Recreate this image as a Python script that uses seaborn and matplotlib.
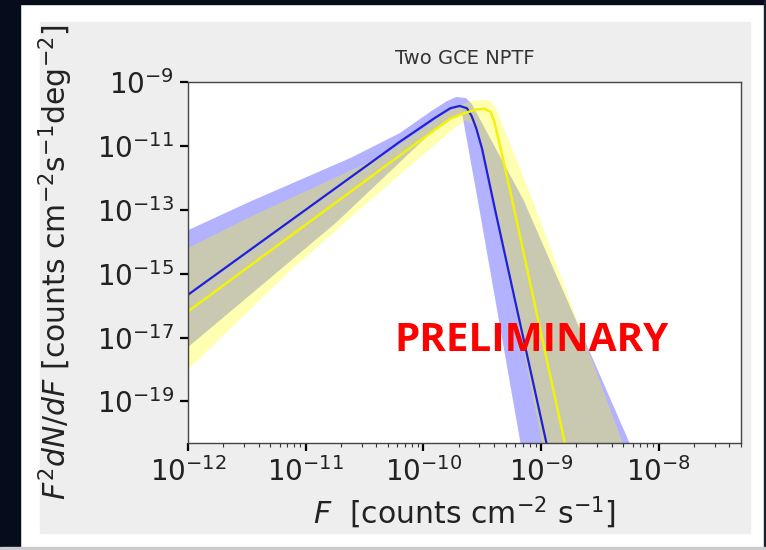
import numpy as np
import pandas as pd
import matplotlib
matplotlib.use('Agg')
import matplotlib.pyplot as plt
import matplotlib.ticker as mtick
from matplotlib.patches import Rectangle
import seaborn as sns

sns.set_style('ticks')
plt.rcParams['font.family'] = ['DejaVu Sans']
plt.rcParams['mathtext.fontset'] = 'dejavusans'

# all values are log10
# x = log10 F, y = log10 F^2 dN/dF
blue_med_x = [-12, -10.2, -9.9, -9.77, -9.69, -9.63, -9.59, -9.55, -9.5, -9.39, -8.90]
blue_med_y = [-15.66, -10.87, -10.12, -9.82, -9.75, -9.82, -10.06, -10.45, -11.1, -13.0, -21.2]

yel_med_x = [-12, -10.2, -9.9, -9.77, -9.67, -9.55, -9.48, -9.43, -9.40, -9.35, -9.245, -8.75]
yel_med_y = [-16.18, -11.30, -10.49, -10.15, -10.0, -9.86, -9.84, -9.93, -10.2, -10.95, -12.69, -21.1]

blue_up_x = [-12, -11.47, -10.62, -10.2, -9.94, -9.8, -9.72, -9.64, -9.59, -9.55, -9.149, -8.247, -8.15]
blue_up_y = [-13.64, -12.74, -11.38, -10.6, -9.93, -9.6, -9.47, -9.5, -9.68, -9.95, -12.69, -20.3, -21.1]
blue_lo_x = [-12, -10.74, -9.91, -9.75, -9.67, -9.53, -9.174, -9.13]
blue_lo_y = [-17.3, -13.4, -10.5, -10.1, -10.0, -12.85, -20.3, -21.2]

yel_up_x = [-12, -11.47, -10.34, -10.0, -9.85, -9.72, -9.6, -9.48, -9.42, -9.38, -9.072, -8.757, -8.306, -8.2]
yel_up_y = [-14.2, -13.22, -11.30, -10.45, -10.05, -9.78, -9.6, -9.55, -9.62, -9.85, -12.69, -15.81, -20.3, -21.35]
yel_lo_x = [-12, -11.1, -10.2, -9.77, -9.64, -9.57, -9.50, -9.39, -8.991, -8.95]
yel_lo_y = [-18.0, -14.8, -11.9, -10.55, -10.2, -10.35, -11.2, -12.9, -20.3, -21.1]

y_ticks = [-19, -17, -15, -13, -11, -9]
x_ticks = [-12, -11, -10, -9, -8]


def band(ux, uy, lx, ly):
    px = 10 ** np.r_[ux, lx[::-1]]
    py = 10 ** np.r_[uy, ly[::-1]]
    return px, py


fig = plt.figure(figsize=(7.66, 5.5), dpi=100)
fig.patch.set_facecolor('white')

# slide frame around the plot
frame = [
    ((0, 0), 20 / 766, 1, '#070c1c'),
    ((0, 1 - 4 / 550), 1, 4 / 550, '#070c1c'),
    ((764 / 766, 0), 2 / 766, 1, '#1a1f2e'),
    ((0, 0), 1, 3 / 550, '#cccccc'),
    ((40 / 766, 17 / 550), 710 / 766, 511 / 550, '#eeeeee'),
]
for xy, w, h, c in frame:
    fig.patches.append(Rectangle(xy, w, h, transform=fig.transFigure, color=c, zorder=-5))

ax = fig.add_axes([188 / 766, 107 / 550, 553 / 766, 361 / 550])
ax.set_facecolor('white')
ax.set_xscale('log')
ax.set_yscale('log')

px, py = band(blue_up_x, blue_up_y, blue_lo_x, blue_lo_y)
ax.fill(px, py, color='blue', alpha=0.3, lw=0)
px, py = band(yel_up_x, yel_up_y, yel_lo_x, yel_lo_y)
ax.fill(px, py, color='yellow', alpha=0.3, lw=0)

blue_df = pd.DataFrame({'F': 10 ** np.array(blue_med_x), 'val': 10 ** np.array(blue_med_y)})
yel_df = pd.DataFrame({'F': 10 ** np.array(yel_med_x), 'val': 10 ** np.array(yel_med_y)})
sns.lineplot(data=blue_df, x='F', y='val', color='#1f1fdc', lw=1.6, ax=ax, sort=False, estimator=None)
sns.lineplot(data=yel_df, x='F', y='val', color='#f2f20a', lw=1.8, ax=ax, sort=False, estimator=None)

ax.set_xlim(1e-12, 10 ** -7.3)
ax.set_ylim(10 ** -20.3, 1e-9)

ax.xaxis.set_major_locator(mtick.FixedLocator([10.0 ** t for t in x_ticks]))
ax.xaxis.set_minor_locator(mtick.LogLocator(base=10, subs=np.arange(2, 10), numticks=20))
ax.yaxis.set_major_locator(mtick.FixedLocator([10.0 ** t for t in y_ticks]))
ax.yaxis.set_minor_locator(mtick.NullLocator())
ax.xaxis.set_major_formatter(mtick.LogFormatterSciNotation())
ax.yaxis.set_major_formatter(mtick.LogFormatterSciNotation())
ax.xaxis.set_minor_formatter(mtick.NullFormatter())

ax.tick_params(axis='both', which='major', direction='out', length=6, width=1.6,
               color='black', labelsize=20, labelcolor='#222222', pad=4)
ax.tick_params(axis='x', which='minor', direction='out', length=3, width=0.8, color='#333333')
for s in ax.spines.values():
    s.set_color('#444444')
    s.set_linewidth(1.0)

ax.set_title('Two GCE NPTF', fontsize=14, color='#333333', pad=13)
ax.set_xlabel(r'$F$  [counts cm$^{-2}$ s$^{-1}$]', fontsize=21.5, color='#222222', labelpad=6)
ax.set_ylabel(r'$F^2 dN/dF$ [counts cm$^{-2}$s$^{-1}$deg$^{-2}$]', fontsize=21.5, color='#222222', labelpad=16)

ax.text(0.374, 0.285, 'PRELIMINARY', transform=ax.transAxes, ha='left', va='center',
        fontsize=29, fontweight='bold', color='#ff0000', family=['Open Sans', 'DejaVu Sans'])

fig.savefig('out.png', dpi=100)
